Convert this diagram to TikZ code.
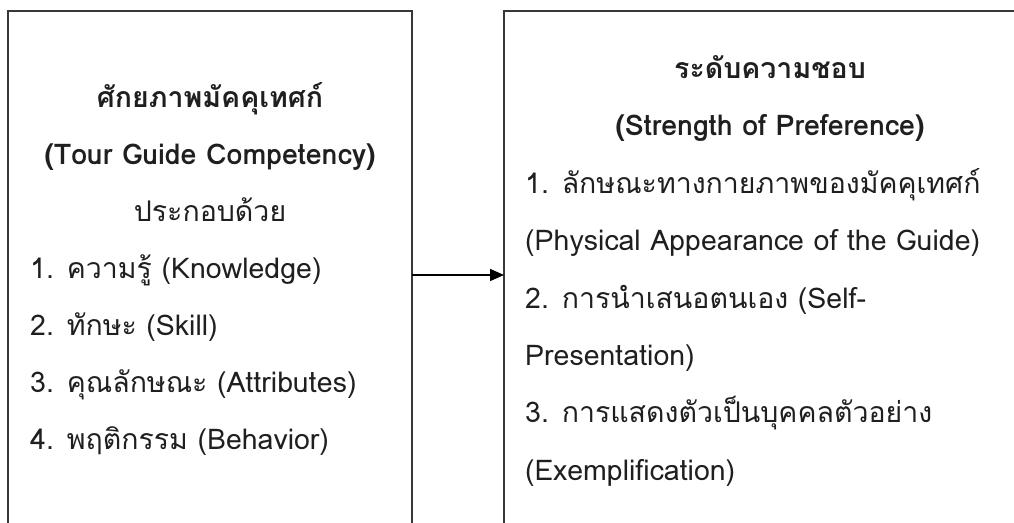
\documentclass[tikz,border=0pt]{standalone}
\usepackage{fontspec}
\setmainfont[Script=Thai]{Loma}
\usetikzlibrary{arrows.meta}
\tikzset{
  frame/.style={line width=1.5pt, draw=black!78},
  txt/.style={anchor=base west, inner sep=0pt, text=black!88, font=\fontsize{28.5}{34}\selectfont},
  ctxt/.style={anchor=base, inner sep=0pt, text=black!88, font=\fontsize{28.5}{34}\selectfont\bfseries},
  link/.style={line width=1.5pt, draw=black, -{Triangle[length=14pt,width=12pt]}}
}
\begin{document}
\begin{tikzpicture}[x=1pt,y=-1pt]
\useasboundingbox (0,0) rectangle (1014,522);
% frames (open at bottom / right as in the reference)
\draw[frame] (8,530) -- (8,11) -- (412,11) -- (412,530);
\draw[frame] (504,530) -- (504,11) -- (1020,11);
% left box text
\node[ctxt] (l1) at (210,107) {ศักยภาพมัคคุเทศก์};
\node[ctxt] (l2) at (210,164) {(Tour Guide Competency)};
\node[ctxt,font=\fontsize{28.5}{34}\selectfont] (l3) at (210,221) {ประกอบด้วย};
\node[txt] (l4) at (30,278) {1. ความรู้ (Knowledge)};
\node[txt] (l5) at (30,335) {2. ทักษะ (Skill)};
\node[txt] (l6) at (30,392) {3. คุณลักษณะ (Attributes)};
\node[txt] (l7) at (30,449) {4. พฤติกรรม (Behavior)};
% right box text
\node[ctxt] (r1) at (770,78) {ระดับความชอบ};
\node[ctxt] (r2) at (770,135) {(Strength of Preference)};
\node[txt] (r3) at (525,193) {1. ลักษณะทางกายภาพของมัคคุเทศก์};
\node[txt] (r4) at (525,250) {(Physical Appearance of the Guide)};
\node[txt] (r5) at (525,308) {2. การนำเสนอตนเอง (Self-};
\node[txt] (r6) at (525,365) {Presentation)};
\node[txt] (r7) at (525,422) {3. การแสดงตัวเป็นบุคคลตัวอย่าง};
\node[txt] (r8) at (525,480) {(Exemplification)};
% connector
\coordinate (lA) at (412,275);
\coordinate (rA) at (504,275);
\draw[link] (lA) -- (rA);
\end{tikzpicture}
\end{document}
